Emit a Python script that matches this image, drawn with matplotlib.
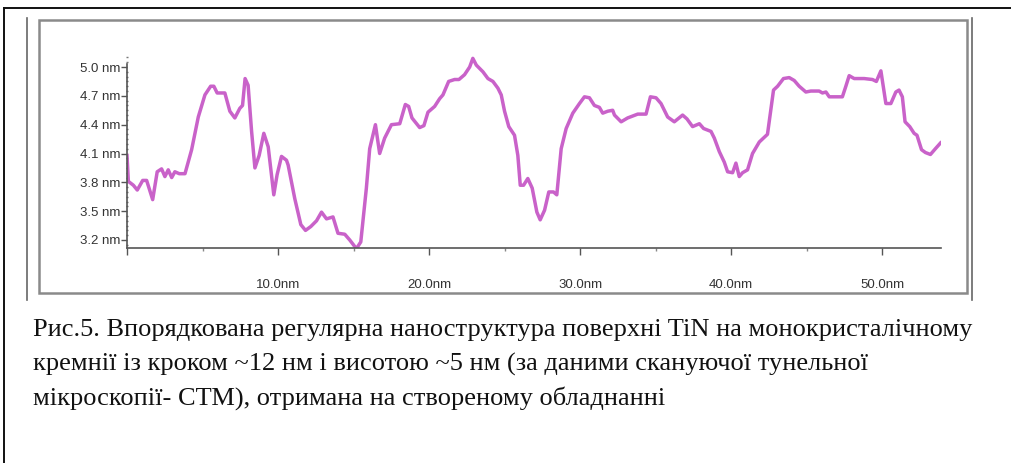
import numpy as np
import matplotlib
matplotlib.use("Agg")
from matplotlib import pyplot as plt
from matplotlib.lines import Line2D
from matplotlib.patches import Rectangle
from matplotlib.ticker import MultipleLocator

# профіль поверхні TiN (СТМ)
dist_nm = [0.0, 0.09, 0.42, 0.68, 1.04, 1.30, 1.70, 2.00, 2.29, 2.51, 2.73, 2.96, 3.17, 3.46, 3.84,
           4.28, 4.72, 5.16, 5.54, 5.75, 5.97, 6.48, 6.81, 7.14, 7.47, 7.65, 7.82, 8.02, 8.25, 8.47,
           8.75, 9.06, 9.35, 9.72, 9.94, 10.23, 10.56, 10.67, 11.11, 11.51, 11.82, 12.17, 12.55, 12.88,
           13.21, 13.64, 13.97, 14.42, 14.75, 15.19, 15.48, 15.85, 16.07, 16.45, 16.73, 17.06, 17.51,
           18.06, 18.43, 18.65, 18.87, 19.38, 19.66, 19.93, 20.37, 20.70, 20.92, 21.30, 21.69, 21.98,
           22.35, 22.69, 22.90, 23.13, 23.57, 23.90, 24.23, 24.56, 24.78, 25.00, 25.28, 25.66, 25.88,
           26.04, 26.26, 26.54, 26.83, 27.14, 27.36, 27.65, 27.93, 28.24, 28.46, 28.75, 29.08, 29.52,
           29.96, 30.29, 30.62, 30.95, 31.28, 31.50, 31.83, 32.16, 32.28, 32.72, 33.15, 33.82, 34.37,
           34.66, 35.03, 35.36, 35.80, 36.24, 36.79, 37.08, 37.45, 37.90, 38.18, 38.67, 38.89, 39.22,
           39.55, 39.77, 40.10, 40.32, 40.54, 40.76, 41.09, 41.42, 41.87, 42.41, 42.81, 43.08, 43.47,
           43.85, 44.18, 44.51, 44.95, 45.28, 45.83, 46.05, 46.28, 46.50, 47.37, 47.60, 47.82, 48.15,
           48.81, 49.36, 49.62, 49.92, 50.25, 50.58, 50.91, 51.12, 51.34, 51.52, 51.83, 52.12, 52.31,
           52.61, 52.87, 53.20, 53.53, 53.87]
height_nm = [4.08, 3.81, 3.77, 3.72, 3.82, 3.82, 3.62, 3.91, 3.94, 3.86, 3.93, 3.85, 3.91, 3.89, 3.89,
             4.14, 4.48, 4.71, 4.80, 4.80, 4.73, 4.73, 4.54, 4.47, 4.57, 4.60, 4.88, 4.81, 4.33, 3.95,
             4.08, 4.31, 4.17, 3.67, 3.88, 4.07, 4.03, 3.98, 3.63, 3.36, 3.30, 3.34, 3.40, 3.49,
             3.42, 3.44, 3.27, 3.26, 3.20, 3.11, 3.18, 3.74, 4.15, 4.40, 4.10, 4.26, 4.40,
             4.41, 4.61, 4.59, 4.47, 4.37, 4.39, 4.53, 4.59, 4.67, 4.71, 4.85, 4.87, 4.87,
             4.92, 5.00, 5.09, 5.02, 4.95, 4.88, 4.85, 4.78, 4.71, 4.54, 4.38, 4.29, 4.08,
             3.77, 3.77, 3.84, 3.74, 3.49, 3.41, 3.51, 3.70, 3.70, 3.67, 4.15, 4.36, 4.52,
             4.62, 4.69, 4.68, 4.60, 4.58, 4.52, 4.54, 4.55, 4.50, 4.43, 4.47, 4.51, 4.51,
             4.69, 4.68, 4.62, 4.48, 4.43, 4.50, 4.46, 4.38, 4.41, 4.36, 4.33, 4.26, 4.12,
             4.01, 3.91, 3.90, 4.00, 3.86, 3.90, 3.93, 4.10, 4.22, 4.30, 4.76, 4.80, 4.88,
             4.89, 4.86, 4.80, 4.74, 4.75, 4.75, 4.73, 4.74, 4.69, 4.69, 4.80, 4.91, 4.88,
             4.88, 4.87, 4.85, 4.96, 4.62, 4.62, 4.74, 4.76, 4.69, 4.43, 4.38, 4.31, 4.29,
             4.14, 4.11, 4.09, 4.15, 4.21]

y_ticks = [3.2, 3.5, 3.8, 4.1, 4.4, 4.7, 5.0]
y_labels = ['3.2 nm', '3.5 nm', '3.8 nm', '4.1 nm', '4.4 nm', '4.7 nm', '5.0 nm']
x_ticks = [0, 10, 20, 30, 40, 50]
x_labels = ['', '10.0nm', '20.0nm', '30.0nm', '40.0nm', '50.0nm']

caption = ["Рис.5. Впорядкована регулярна наноструктура поверхні TiN на монокристалічному",
           "кремнії із кроком ~12 нм і висотою ~5 нм (за даними скануючої тунельної",
           "мікроскопії- СТМ), отримана на створеному обладнанні"]

W, H = 1011, 463
fig = plt.figure(figsize=(W / 100, H / 100), dpi=100)

# рамки (в пікселях)
bg = fig.add_axes([0, 0, 1, 1])
bg.set_xlim(0, W)
bg.set_ylim(H, 0)
bg.axis('off')
bg.add_line(Line2D([4, W], [8, 8], color='#111111', lw=1.4))
bg.add_line(Line2D([4, 4], [8, H], color='#111111', lw=1.4))
bg.add_line(Line2D([27, 27], [18, 300], color='#666666', lw=1.2))
bg.add_line(Line2D([972, 972], [18, 300], color='#666666', lw=1.2))
bg.add_patch(Rectangle((39, 20), 928, 273, fill=False, ec='#8a8a8a', lw=1.8))

for i, line in enumerate(caption):
    bg.text(33, 330 + 34 * i, line, fontsize=19, family='Liberation Serif',
            va='center', ha='left', color='#111111')

# графік
x0, x1 = 127, 941
yb, yt = 248, 55.5
ax = fig.add_axes([x0 / W, (H - yb) / H, (x1 - x0) / W, (yb - yt) / H])
ax.patch.set_alpha(0)
ax.plot(dist_nm, height_nm, color='#c962c9', lw=2.5, solid_joinstyle='round')
ax.set_xlim(0, 53.9)
ax.set_ylim(3.2 - 8 / 96.1, 3.2 + (240 - yt) / 96.1)

for s in ['top', 'right']:
    ax.spines[s].set_visible(False)
ax.spines['left'].set_bounds(3.2 - 8 / 96.1, 5.03)
ax.spines['left'].set_color('#555555')
ax.spines['bottom'].set_color('#555555')
ax.spines['left'].set_linewidth(1.2)
ax.spines['bottom'].set_linewidth(1.2)

ax.set_yticks(y_ticks)
ax.set_yticklabels(y_labels)
ax.set_xticks(x_ticks)
ax.set_xticklabels(x_labels)
ax.xaxis.set_minor_locator(MultipleLocator(5))
ax.yaxis.set_minor_locator(MultipleLocator(0.05))
ax.tick_params(axis='y', which='major', length=4, width=1, color='#555555', pad=1,
               labelsize=9.5, labelcolor='#333333')
ax.tick_params(axis='y', which='minor', length=2, width=1, color='#777777', direction='inout')
ax.tick_params(axis='x', which='major', length=5, width=1, color='#555555', pad=17,
               labelsize=9.5, labelcolor='#333333')
ax.tick_params(axis='x', which='minor', length=2.5, width=1, color='#888888')
for lab in ax.get_xticklabels() + ax.get_yticklabels():
    lab.set_family('Liberation Sans')

fig.savefig('out.png', dpi=100)
